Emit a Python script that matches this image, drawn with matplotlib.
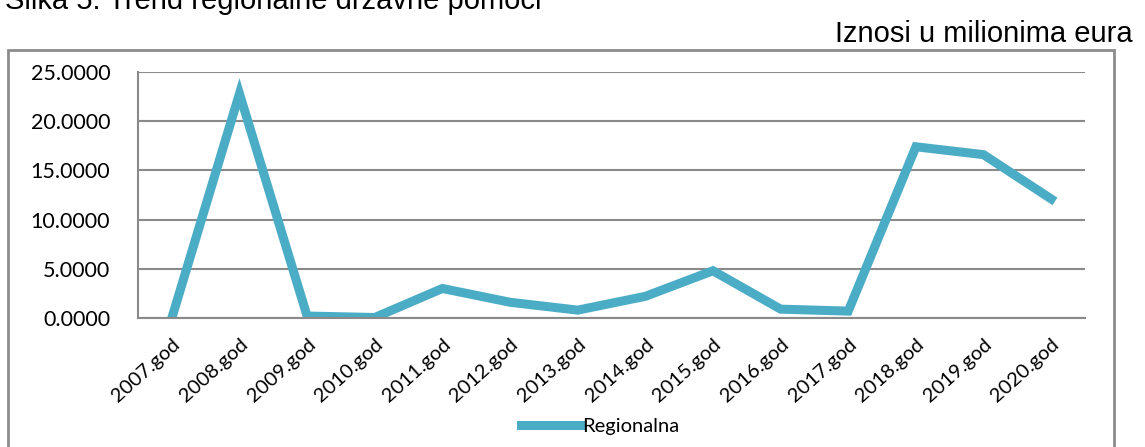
import matplotlib.pyplot as plt
from matplotlib.patches import Rectangle

# data (millions of euros)
years = ["2007.god", "2008.god", "2009.god", "2010.god", "2011.god", "2012.god", "2013.god",
         "2014.god", "2015.god", "2016.god", "2017.god", "2018.god", "2019.god", "2020.god"]
regionalna = [0.0, 22.8, 0.2, 0.05, 3.0, 1.6, 0.8, 2.2, 4.8, 0.9, 0.7, 17.4, 16.6, 12.1]
y_ticks = [0, 5, 10, 15, 20, 25]

fig = plt.figure(figsize=(11.45, 4.47), dpi=100)

# caption at top (cut off by the page edge as in the scan) and units note
fig.text(0.004, 1 - 9 / 447, "Slika 5: Trend regionalne državne pomoći", fontsize=21,
         family="Liberation Sans", va="baseline", ha="left")
fig.text(1 - 12 / 1145, 1 - 42 / 447, "Iznosi u milionima eura", fontsize=21,
         family="Liberation Sans", va="baseline", ha="right")

# outer chart box
fig.patches.append(Rectangle((8 / 1145, -0.05), (1114 - 8) / 1145, 1.05 - 50 / 447,
                             transform=fig.transFigure, fill=False, edgecolor="#8c8c8c",
                             linewidth=2))

ax = fig.add_axes([138 / 1145, 1 - 318 / 447, (1085 - 138) / 1145, (318 - 72) / 447])
x = list(range(len(years)))
ax.plot(x, regionalna, color="#4BACC6", linewidth=6.5, solid_joinstyle="miter",
        label="Regionalna")

ax.set_xlim(-0.5, len(years) - 0.5)
ax.set_ylim(0, 25)
ax.set_yticks(y_ticks)
ax.set_yticklabels([f"{v:.4f}" for v in y_ticks], family="Lato", fontsize=15.5)
ax.set_xticks(x)
ax.set_xticklabels(years, rotation=42, ha="right", rotation_mode="anchor",
                   family="Lato", fontsize=14.5)
ax.tick_params(axis="both", length=0)
ax.tick_params(axis="y", pad=20)
ax.tick_params(axis="x", pad=13)

ax.grid(axis="y", color="#8a8a8a", linewidth=1.5)
ax.set_axisbelow(True)
for s in ["top", "right"]:
    ax.spines[s].set_visible(False)
ax.spines["left"].set_color("#8a8a8a")
ax.spines["bottom"].set_color("#8a8a8a")
ax.spines["left"].set_linewidth(1.5)
ax.spines["bottom"].set_linewidth(1.5)

leg = fig.legend(loc="center", bbox_to_anchor=(600 / 1145, 1 - 426 / 447), frameon=False,
                 prop={"family": "Lato", "size": 14.5}, handlelength=2.9, handletextpad=0.1)

fig.savefig("out.png", dpi=100)
